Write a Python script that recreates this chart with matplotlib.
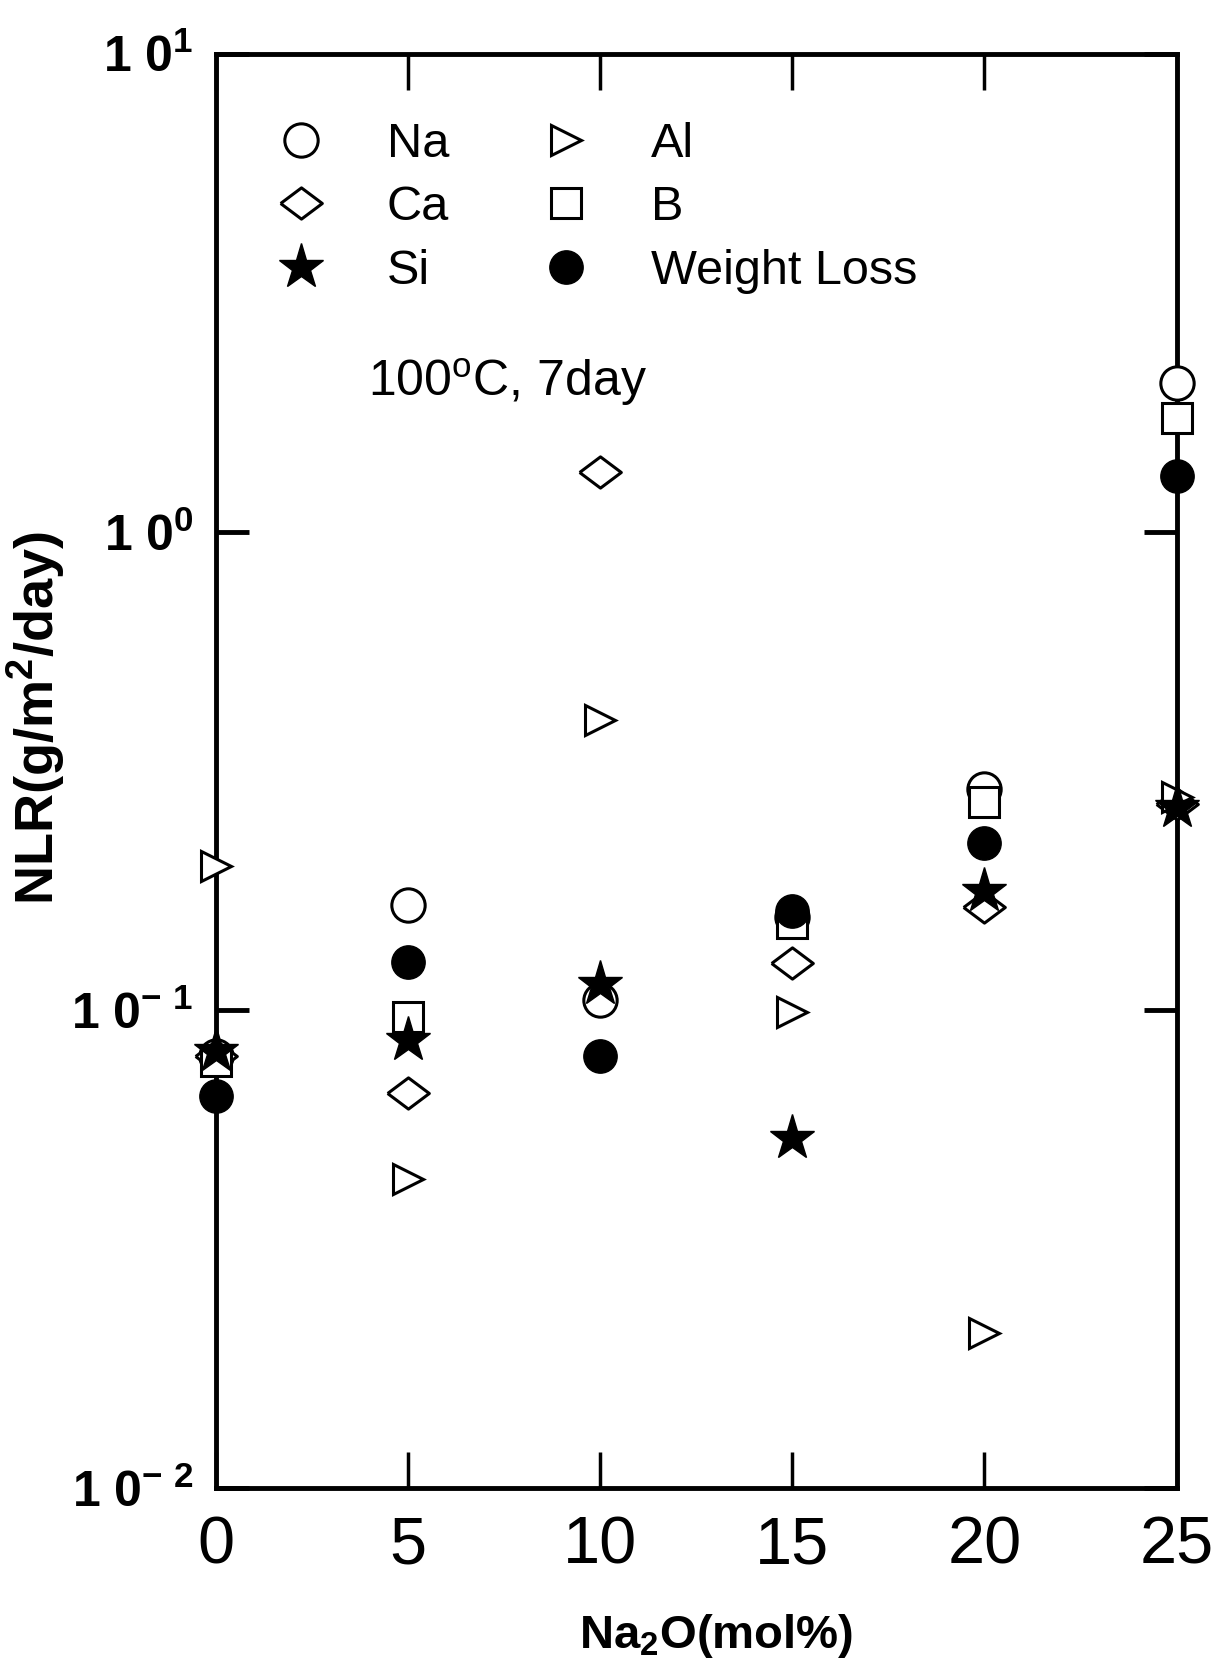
import matplotlib
matplotlib.use("Agg")
import matplotlib.pyplot as plt
from matplotlib import font_manager
import numpy as np

# ---------------- data ----------------
na2o = [0, 5, 10, 15, 20, 25]
series_names = ["Na", "Ca", "Si", "Al", "B", "Weight Loss"]
na_vals = [0.080, 0.166, 0.105, 0.156, 0.290, 2.05]
ca_vals = [0.080, 0.067, 1.33, 0.125, 0.164, 0.27]
si_vals = [0.082, 0.0865, 0.113, 0.054, 0.177, 0.265]
al_vals = [0.200, 0.0443, 0.404, 0.099, 0.0211, 0.279]
b_vals = [0.078, 0.0965, np.nan, 0.152, 0.272, 1.73]
wl_vals = [0.066, 0.126, 0.080, 0.161, 0.223, 1.31]
xtick_vals = [0, 5, 10, 15, 20, 25]
xtick_labels = ["0", "5", "10", "15", "20", "25"]
ytick_vals = [0.01, 0.1, 1, 10]
ytick_labels = [r"1 0$^{\mathregular{-\ 2}}$", r"1 0$^{\mathregular{-\ 1}}$",
                r"1 0$^{\mathregular{0}}$", r"1 0$^{\mathregular{1}}$"]
annotation = "100$^{\\mathregular{o}}$C, 7day"

# ---------------- fonts ----------------
avail = {f.name for f in font_manager.fontManager.ttflist}
narrow = "Liberation Sans Narrow" if "Liberation Sans Narrow" in avail else "Liberation Sans"
plt.rcParams["font.family"] = [narrow, "DejaVu Sans"]
plt.rcParams["mathtext.fontset"] = "custom"
plt.rcParams["mathtext.rm"] = narrow

fig = plt.figure(figsize=(12.13, 16.73), dpi=100)
ax = fig.add_axes([0.178, 0.1106, 0.792, 0.8574])
ax.set_yscale("log")
ax.set_xlim(0, 25)
ax.set_ylim(0.01, 10)

diamond = [(-1, 0), (0, 0.75), (1, 0), (0, -0.75), (-1, 0)]
styles = {
    "Na": dict(marker="o", ms=24, mfc="white", mec="black", mew=2.2),
    "Ca": dict(marker=diamond, ms=30, mfc="white", mec="black", mew=2.2),
    "Si": dict(marker="*", ms=34, mfc="black", mec="black", mew=1),
    "Al": dict(marker=">", ms=22, mfc="white", mec="black", mew=2.2),
    "B": dict(marker="s", ms=22, mfc="white", mec="black", mew=2.2),
    "Weight Loss": dict(marker="o", ms=24, mfc="black", mec="black", mew=1),
}
data = {"Na": na_vals, "Ca": ca_vals, "Si": si_vals, "Al": al_vals,
        "B": b_vals, "Weight Loss": wl_vals}
zorders = {"Na": 3, "Ca": 3, "Si": 5, "Al": 3, "B": 4, "Weight Loss": 6}
handles = []
for name in series_names:
    h, = ax.plot(na2o, data[name], linestyle="none", clip_on=False,
                 zorder=zorders[name], label=name, **styles[name])
    handles.append(h)

for s in ax.spines.values():
    s.set_linewidth(3.5)

ax.set_xticks(xtick_vals)
ax.set_xticklabels(xtick_labels)
ax.set_yticks(ytick_vals)
ax.set_yticklabels(ytick_labels)
ax.yaxis.set_minor_locator(matplotlib.ticker.NullLocator())
ax.tick_params(axis="x", which="major", direction="in", length=26, width=2.5,
               top=True, labelsize=48, pad=20)
ax.tick_params(axis="y", which="major", direction="in", length=24, width=3.5,
               right=True, labelsize=36, pad=16)
for lbl in ax.get_yticklabels():
    lbl.set_fontweight("bold")
    lbl.set_family(["Liberation Sans", "DejaVu Sans"])

ax.set_xlabel("Na$_{\\mathregular{2}}$O(mol%)", fontsize=34, fontweight="bold",
              va="center")
ax.xaxis.set_label_coords(0.521, -0.103)
ax.set_ylabel("NLR(g/m$^{\\mathregular{2}}$/day)", fontsize=39, fontweight="bold",
              family=["Liberation Sans", "DejaVu Sans"], va="center")
ax.yaxis.set_label_coords(-0.188, 0.537)

leg = ax.legend(handles=handles, ncol=2, loc="upper left", frameon=False,
                bbox_to_anchor=(0.003, 0.983), fontsize=35, handlelength=1.6,
                handletextpad=0.95, columnspacing=1.6, labelspacing=0.38,
                numpoints=1)

ax.text(0.158, 0.771, annotation, transform=ax.transAxes, fontsize=36,
        ha="left", va="center")

fig.savefig("out.png", dpi=100)
